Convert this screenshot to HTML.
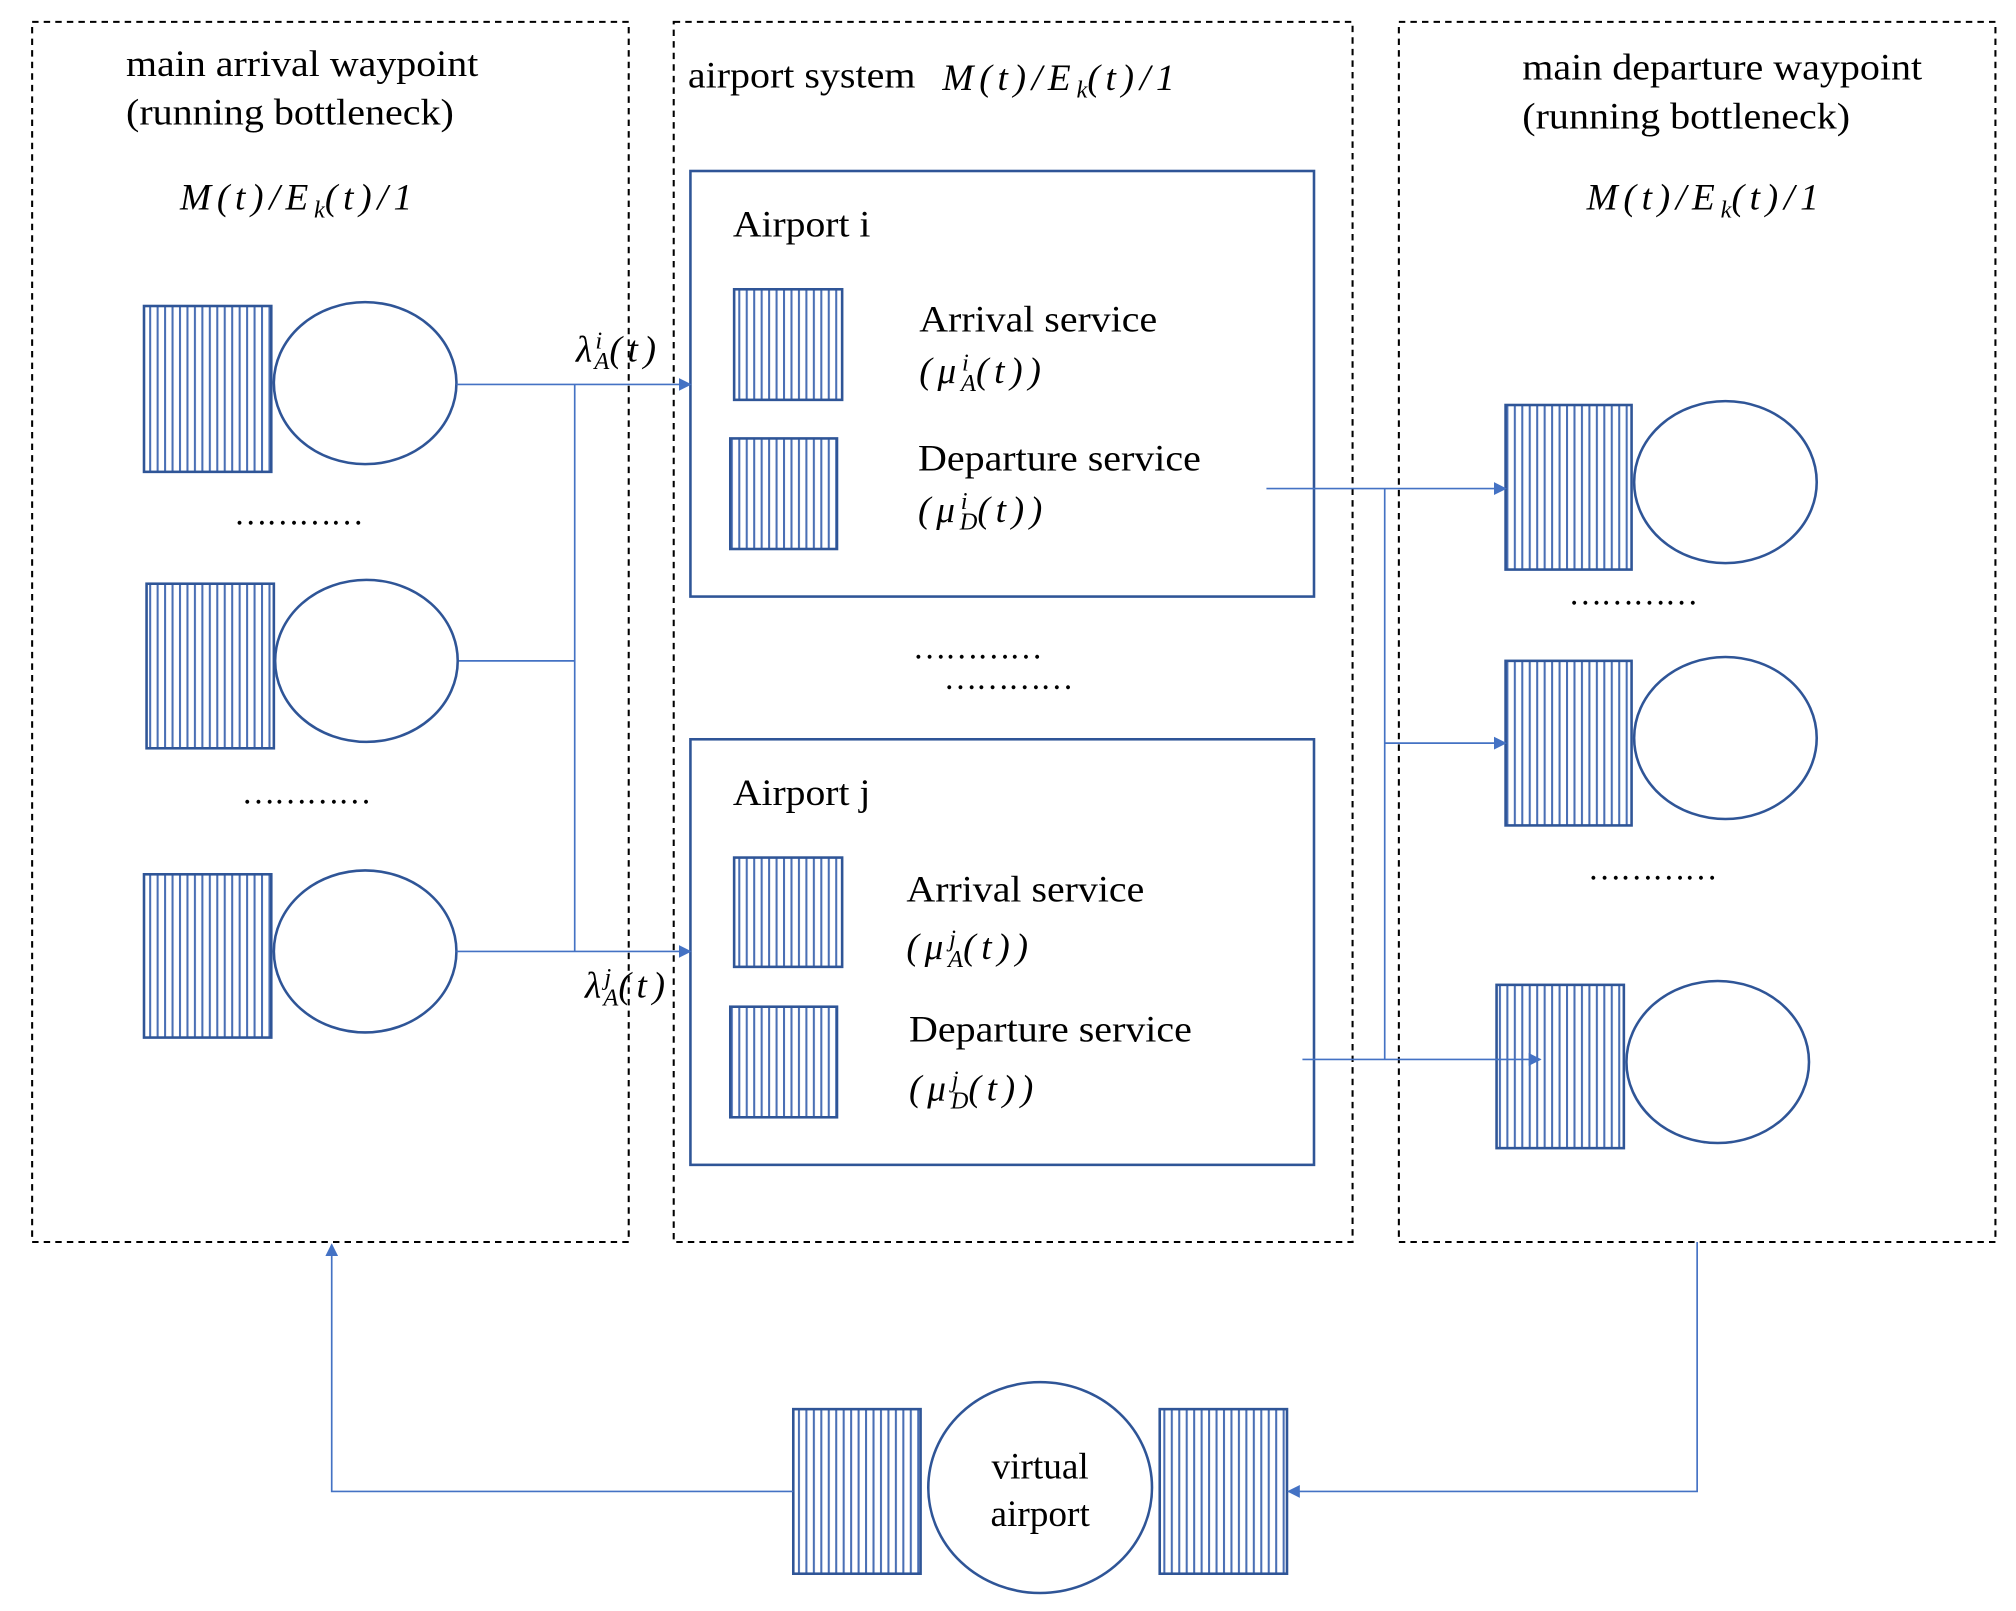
<!DOCTYPE html>
<html><head><meta charset="utf-8"><style>
html,body{margin:0;padding:0;background:#fff;}
svg{display:block;}
text{font-family:"Liberation Serif",serif;fill:#000;}
.t{font-size:29px;}
.m{font-size:29px;font-style:italic;letter-spacing:4.5px;}
.s{font-size:19px;font-style:italic;letter-spacing:0;}
.d{font-size:26px;letter-spacing:-1px;}
</style></head><body>
<svg width="2016" height="1611" viewBox="0 0 1568 1253" xmlns="http://www.w3.org/2000/svg">
<defs>
<pattern id="h" width="5.8" height="10" patternUnits="userSpaceOnUse">
<rect width="5.8" height="10" fill="#fff"/>
<rect x="0" width="1.6" height="10" fill="#4a6fb5"/>
</pattern>
<marker id="a" markerWidth="10" markerHeight="10" refX="9" refY="5" orient="auto" markerUnits="userSpaceOnUse">
<path d="M0,0 L10,5 L0,10 z" fill="#4472C4"/>
</marker>
</defs>
<g fill="none" stroke="#000" stroke-width="1.6" stroke-dasharray="5,4">
<rect x="25" y="17" width="464" height="949"/>
<rect x="524" y="17" width="528" height="949"/>
<rect x="1088" y="17" width="464" height="949"/>
</g>
<g fill="none" stroke="#2F5597" stroke-width="2">
<rect x="537" y="133" width="485" height="331"/>
<rect x="537" y="575" width="485" height="331"/>
</g>
<g stroke="#2F5597" stroke-width="2" fill="url(#h)">
<rect x="112" y="238" width="99" height="129"/>
<rect x="114" y="454" width="99" height="128"/>
<rect x="112" y="680" width="99" height="127"/>
<rect x="571" y="225" width="84" height="86"/>
<rect x="568" y="341" width="83" height="86"/>
<rect x="571" y="667" width="84" height="85"/>
<rect x="568" y="783" width="83" height="86"/>
<rect x="1171" y="315" width="98" height="128"/>
<rect x="1171" y="514" width="98" height="128"/>
<rect x="1164" y="766" width="99" height="127"/>
<rect x="617" y="1096" width="99" height="128"/>
<rect x="902" y="1096" width="99" height="128"/>
</g>
<g stroke="#2F5597" stroke-width="2" fill="#fff">
<ellipse cx="284" cy="298" rx="71" ry="63"/>
<ellipse cx="285" cy="514" rx="71" ry="63"/>
<ellipse cx="284" cy="740" rx="71" ry="63"/>
<ellipse cx="1342" cy="375" rx="71" ry="63"/>
<ellipse cx="1342" cy="574" rx="71" ry="63"/>
<ellipse cx="1336" cy="826" rx="71" ry="63"/>
<ellipse cx="809" cy="1157" rx="87" ry="82"/>
</g>
<g stroke="#4472C4" stroke-width="1.3" fill="none">
<line x1="355" y1="299" x2="537" y2="299" marker-end="url(#a)"/>
<line x1="447" y1="299" x2="447" y2="740"/>
<line x1="357" y1="514" x2="447" y2="514"/>
<line x1="355" y1="740" x2="537" y2="740" marker-end="url(#a)"/>
<line x1="985" y1="380" x2="1171" y2="380" marker-end="url(#a)"/>
<line x1="1077" y1="380" x2="1077" y2="824"/>
<line x1="1077" y1="578" x2="1171" y2="578" marker-end="url(#a)"/>
<line x1="1013" y1="824" x2="1198" y2="824" marker-end="url(#a)"/>
<polyline points="1320,966 1320,1160 1002,1160" marker-end="url(#a)"/>
<polyline points="617,1160 258,1160 258,968" marker-end="url(#a)"/>
</g>
<text class="t" x="98" y="59" textLength="274" lengthAdjust="spacingAndGlyphs">main arrival waypoint</text>
<text class="t" x="98" y="97" textLength="255" lengthAdjust="spacingAndGlyphs">(running bottleneck)</text>
<text class="m" x="140" y="163">M(t)/E<tspan class="s" dy="6">k</tspan><tspan dy="-6">(t)/1</tspan></text>
<text class="d" x="182" y="408">…………</text>
<text class="d" x="188" y="625">…………</text>
<text class="m" x="448" y="281">λ<tspan class="s" dy="-10" dx="-2">i</tspan><tspan class="s" dy="16" dx="-6">A</tspan><tspan dy="-6">(t)</tspan></text>
<text class="m" x="455" y="776">λ<tspan class="s" dy="-10" dx="-2">j</tspan><tspan class="s" dy="16" dx="-6">A</tspan><tspan dy="-6">(t)</tspan></text>
<text class="t" x="535" y="68" textLength="177" lengthAdjust="spacingAndGlyphs">airport system</text>
<text class="m" x="733" y="70">M(t)/E<tspan class="s" dy="6">k</tspan><tspan dy="-6">(t)/1</tspan></text>
<text class="t" x="570" y="184" textLength="107" lengthAdjust="spacingAndGlyphs">Airport i</text>
<text class="t" x="715" y="258" textLength="185" lengthAdjust="spacingAndGlyphs">Arrival service</text>
<text class="m" x="715" y="298">(μ<tspan class="s" dy="-10">i</tspan><tspan class="s" dy="16" dx="-6">A</tspan><tspan dy="-6">(t))</tspan></text>
<text class="t" x="714" y="366" textLength="220" lengthAdjust="spacingAndGlyphs">Departure service</text>
<text class="m" x="714" y="406">(μ<tspan class="s" dy="-10">i</tspan><tspan class="s" dy="16" dx="-6">D</tspan><tspan dy="-6">(t))</tspan></text>
<text class="d" x="710" y="512">…………</text>
<text class="d" x="734" y="536">…………</text>
<text class="t" x="570" y="626" textLength="107" lengthAdjust="spacingAndGlyphs">Airport j</text>
<text class="t" x="705" y="701" textLength="185" lengthAdjust="spacingAndGlyphs">Arrival service</text>
<text class="m" x="705" y="746">(μ<tspan class="s" dy="-10">j</tspan><tspan class="s" dy="16" dx="-6">A</tspan><tspan dy="-6">(t))</tspan></text>
<text class="t" x="707" y="810" textLength="220" lengthAdjust="spacingAndGlyphs">Departure service</text>
<text class="m" x="707" y="856">(μ<tspan class="s" dy="-10">j</tspan><tspan class="s" dy="16" dx="-6">D</tspan><tspan dy="-6">(t))</tspan></text>
<text class="t" x="1184" y="62" textLength="311" lengthAdjust="spacingAndGlyphs">main departure waypoint</text>
<text class="t" x="1184" y="100" textLength="255" lengthAdjust="spacingAndGlyphs">(running bottleneck)</text>
<text class="m" x="1234" y="163">M(t)/E<tspan class="s" dy="6">k</tspan><tspan dy="-6">(t)/1</tspan></text>
<text class="d" x="1220" y="470">…………</text>
<text class="d" x="1235" y="684">…………</text>
<text class="t" x="809" y="1150" text-anchor="middle">virtual</text>
<text class="t" x="809" y="1187" text-anchor="middle">airport</text>
</svg>
</body></html>
